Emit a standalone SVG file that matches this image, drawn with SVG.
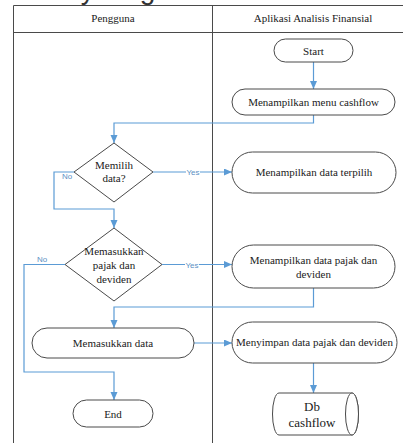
<svg xmlns="http://www.w3.org/2000/svg" width="403" height="443" viewBox="0 0 403 443">
<style>
.bg{fill:#ffffff}
.frame{fill:none;stroke:#4a4a4a;stroke-width:1}
.node{fill:#ffffff;stroke:#4a4a4a;stroke-width:1}
.t{font-family:"Liberation Serif","Times New Roman",serif;font-size:11px;fill:#1a1a1a;text-anchor:middle}
.big{font-size:13px}
.conn{fill:none;stroke:#5b9bd5;stroke-width:1.2}
.lbl{font-family:"Liberation Sans",Arial,sans-serif;font-size:8px;fill:#5b8fc4;text-anchor:middle}
.title{font-family:"Liberation Sans",Arial,sans-serif;font-size:28px;fill:#333333}
</style>
<defs>
<marker id="arr" markerUnits="userSpaceOnUse" markerWidth="9" markerHeight="8" refX="8" refY="3.5" orient="auto">
<path d="M0,0 L8,3.5 L0,7 z" fill="#5b9bd5"/>
</marker>
</defs>
<rect class="bg" x="0" y="0" width="403" height="443"/>
<text class="title" x="6" y="-1">Activity diagram</text>
<g id="swimlanes">
<path class="frame" d="M13.5,5.5 H403 M13.5,32.5 H403 M13.5,5.5 V443 M212.5,5.5 V443"/>
<text class="t" x="113" y="22">Pengguna</text>
<text class="t" x="313" y="22">Aplikasi Analisis Finansial</text>
</g>
<g id="connectors">
<path class="conn" d="M313.5,62 V89" marker-end="url(#arr)"/>
<path class="conn" d="M313.5,115 V123 H114 V143" marker-end="url(#arr)"/>
<path class="conn" d="M153,172 H232" marker-end="url(#arr)"/>
<path class="conn" d="M74,172 H54 V209 H114 V228" marker-end="url(#arr)"/>
<path class="conn" d="M162,264.5 H232" marker-end="url(#arr)"/>
<path class="conn" d="M65,264.5 H24 V372 H114 V400" marker-end="url(#arr)"/>
<path class="conn" d="M313.5,288 V307 H114 V328" marker-end="url(#arr)"/>
<path class="conn" d="M194,343 H232" marker-end="url(#arr)"/>
<path class="conn" d="M313.5,363 V393" marker-end="url(#arr)"/>
<rect x="186" y="168" width="14" height="8" fill="#ffffff"/>
<text class="lbl" x="193" y="175">Yes</text>
<text class="lbl" x="67" y="179">No</text>
<rect x="185" y="260.5" width="14" height="8" fill="#ffffff"/>
<text class="lbl" x="192" y="267.5">Yes</text>
<text class="lbl" x="42" y="262">No</text>
</g>
<g id="start">
<rect class="node" x="274" y="39" width="79" height="23" rx="11.5"/>
<text class="t" x="313.5" y="54.5">Start</text>
</g>
<g id="menu-cashflow">
<rect class="node" x="232" y="89" width="163" height="26" rx="13"/>
<text class="t" x="313.5" y="106">Menampilkan menu cashflow</text>
</g>
<g id="memilih-data">
<polygon class="node" points="114,143 153,172 114,202 74,172"/>
<text class="t" x="114" y="169">Memilih</text>
<text class="t" x="114" y="182">data?</text>
</g>
<g id="data-terpilih">
<rect class="node" x="232" y="152" width="164" height="41" rx="20.5"/>
<text class="t" x="314" y="176">Menampilkan data terpilih</text>
</g>
<g id="memasukkan-pajak">
<polygon class="node" points="114,228 162,264.5 114,301 65,264.5"/>
<text class="t" x="114" y="255">Memasukkan</text>
<text class="t" x="114" y="269">pajak dan</text>
<text class="t" x="114" y="283">deviden</text>
</g>
<g id="data-pajak">
<rect class="node" x="232" y="245" width="163" height="43" rx="21.5"/>
<text class="t" x="313.5" y="264">Menampilkan data pajak dan</text>
<text class="t" x="313.5" y="278">deviden</text>
</g>
<g id="memasukkan-data">
<rect class="node" x="32" y="328" width="162" height="30" rx="15"/>
<text class="t" x="113" y="347">Memasukkan data</text>
</g>
<g id="menyimpan">
<rect class="node" x="232" y="322" width="165" height="41" rx="20.5"/>
<text class="t" x="314.5" y="346">Menyimpan data pajak dan deviden</text>
</g>
<g id="end">
<rect class="node" x="73" y="400" width="80" height="27" rx="13.5"/>
<text class="t" x="113" y="417.5">End</text>
</g>
<g id="db-cashflow">
<path class="node" d="M352,393 H279 A6.5,21 0 0 0 279,435 H352 A6.5,21 0 0 0 352,393 Z"/>
<ellipse class="node" cx="352" cy="414" rx="6.5" ry="21"/>
<text class="t big" x="312" y="411">Db</text>
<text class="t big" x="312" y="427">cashflow</text>
</g>
</svg>
